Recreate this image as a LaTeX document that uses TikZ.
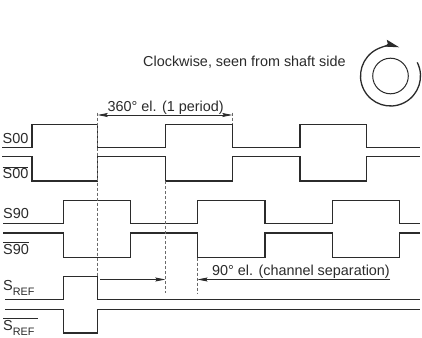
\documentclass[tikz,border=0pt]{standalone}
\usepackage{fontspec}
\setmainfont{Liberation Sans}
\usetikzlibrary{arrows.meta,calc}
\definecolor{ink}{HTML}{2B2B2B}
\definecolor{dashgray}{HTML}{6A6A6A}
\tikzset{
  sig/.style={draw=ink, line width=1.2pt, line join=miter},
  guide/.style={draw=dashgray, line width=0.7pt, dash pattern=on 3pt off 2pt},
  dimarrow/.style={draw=ink, line width=0.8pt},
  dimtip/.tip={Stealth[length=10pt,width=4pt,inset=1.5pt]},
  lbl/.style={inner sep=0pt, anchor=base west, text=ink, font=\fontsize{14.5}{17}\selectfont},
  txt/.style={inner sep=0pt, anchor=base west, text=ink, font=\fontsize{14.4}{17}\selectfont},
}
\begin{document}
\begin{tikzpicture}[x=1pt,y=-1pt]
\useasboundingbox (0,0) rectangle (422,337);
\fill[white] (0,0) rectangle (422,337);

% signal labels
\node[lbl] (l00)  at (2.5,143.3) {S00};
\node[lbl] (l00b) at (2.5,178.3) {$\overline{\mbox{S00}}$};
\node[lbl] (l90)  at (3,218.3) {S90};
\node[lbl] (l90b) at (3,254) {$\overline{\mbox{S90}}$};
\node[lbl] (lref) at (3,290) {S\raisebox{-5pt}{\fontsize{10.8}{12}\selectfont REF}};
\node[lbl] (lrefb) at (3,330) {$\overline{\mbox{S\raisebox{-5pt}{\fontsize{10.8}{12}\selectfont REF}\hspace{4pt}}}$};

% S00
\draw[sig] (2,147.3) -- (32,147.3) -- (32,124.3) -- (97.7,124.3) -- (97.7,147.3) -- (165.3,147.3) -- (165.3,124.3) -- (232.3,124.3) -- (232.3,147.3) -- (300,147.3) -- (300,124.3) -- (366.7,124.3) -- (366.7,147.3) -- (420,147.3);
% S00 bar
\draw[sig] (2,156.7) -- (32,156.7) -- (32,181) -- (97.7,181) -- (97.7,156.7) -- (165.3,156.7) -- (165.3,181) -- (232.3,181) -- (232.3,156.7) -- (300,156.7) -- (300,181) -- (366.7,181) -- (366.7,156.7) -- (420,156.7);
% S90
\draw[sig] (3,223.3) -- (63.5,223.3) -- (63.5,200.5) -- (130.5,200.5) -- (130.5,223.3) -- (197.5,223.3) -- (197.5,200.5) -- (265,200.5) -- (265,223.3) -- (332.5,223.3) -- (332.5,200.5) -- (399.5,200.5) -- (399.5,223.3) -- (420,223.3);
% S90 bar
\draw[sig] (3,233) -- (63.5,233) -- (63.5,257.7) -- (130.5,257.7) -- (130.5,233) -- (197.5,233) -- (197.5,257.7) -- (265,257.7) -- (265,233) -- (332.5,233) -- (332.5,257.7) -- (399.5,257.7) -- (399.5,233) -- (420,233);
% SREF
\draw[sig] (5,299.5) -- (63.5,299.5) -- (63.5,276.5) -- (97.7,276.5) -- (97.7,299.5) -- (420,299.5);
% SREF bar
\draw[sig] (5,309.5) -- (63.5,309.5) -- (63.5,333) -- (97.7,333) -- (97.7,309.5) -- (420,309.5);

% guide lines
\coordinate (d1t) at (97.7,112.5);  \coordinate (d1b) at (97.7,276.5);
\coordinate (d2t) at (232.3,112.5); \coordinate (d2b) at (232.3,124.3);
\coordinate (d3t) at (165.3,181);   \coordinate (d3b) at (165.3,293);
\coordinate (d4t) at (197.5,257.7); \coordinate (d4b) at (197.5,293);
\draw[guide] (d1t) -- (d1b);
\draw[guide] (d2t) -- (d2b);
\draw[guide] (d3t) -- (d3b);
\draw[guide] (d4t) -- (d4b);

% period dimension
\coordinate (p1) at (97.7,115);
\coordinate (p2) at (232.3,115);
\draw[dimarrow, dimtip-dimtip] (p1) -- (p2);
\node[txt] (t360) at (107.5,111) {360° el. (1 period)};

% channel separation
\coordinate (c1) at (100,279.5);
\coordinate (c2) at (165.3,279.5);
\coordinate (c3) at (390,279.5);
\coordinate (c4) at (197.5,279.5);
\draw[dimarrow, -dimtip] (c1) -- (c2);
\draw[dimarrow, -dimtip] (c3) -- (c4);
\node[txt] (t90) at (212,275.5) {90° el. (channel separation)};

% rotation
\node[txt] (tcw) at (143,66.5) {Clockwise, seen from shaft side};
\coordinate (cc) at (390.5,76);
\draw[ink, line width=1pt] (cc) circle[radius=17.8];
\draw[ink, line width=1.3pt, -{Stealth[length=14pt,width=7pt,inset=2pt]}] ($(cc)+(-27:30)$) arc[start angle=-27, end angle=287, radius=30];
\end{tikzpicture}
\end{document}
